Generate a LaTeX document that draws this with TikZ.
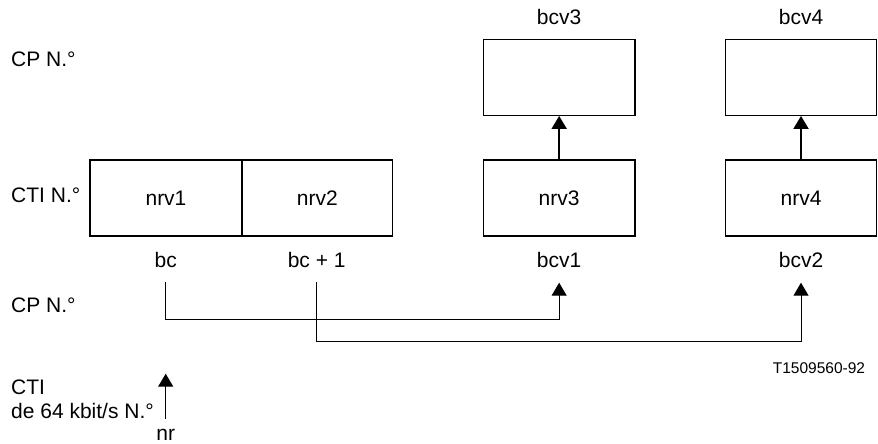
\documentclass[tikz,border=0pt]{standalone}
\usepackage{fontspec}
\setmainfont{Liberation Sans}
\usetikzlibrary{arrows.meta}
\begin{document}
\begin{tikzpicture}[x=1pt,y=-1pt,
  every node/.style={font=\fontsize{21}{24}\selectfont, inner sep=0pt},
  boxnode/.style={draw, line width=1.3pt, minimum height=76pt},
  lbl/.style={anchor=base},
  lbll/.style={anchor=base west},
  conn/.style={line width=1pt},
  tip/.style={-{Triangle[width=15pt,length=13pt]}},
  arr/.style={line width=1.3pt, tip},
  thickarr/.style={line width=2pt, tip}
]
\useasboundingbox (0,0) rectangle (878,444);

% row labels
\node[lbll] (cp1) at (11,66.5) {CP N.°};
\node[lbll] (cti1) at (11,202) {CTI N.°};
\node[lbll] (cp2) at (11,312.7) {CP N.°};
\node[lbll] (cti2) at (11,394.7) {CTI};
\node[lbll] (de64) at (11,418.7) {de 64 kbit/s N.°};

% boxes
\node[boxnode, minimum width=152pt] (n1) at (166,198) {nrv1};
\node[boxnode, minimum width=150.7pt] (n2) at (317.35,198) {nrv2};
\node[boxnode, minimum width=151.7pt] (n3) at (559.15,198) {nrv3};
\node[boxnode, minimum width=151.4pt] (n4) at (801,198) {nrv4};
\node[boxnode, minimum width=151.7pt] (u3) at (559.15,77.3) {};
\node[boxnode, minimum width=151.4pt] (u4) at (801,77.3) {};

% top labels
\node[lbl] (bcv3) at (559.15,25) {bcv3};
\node[lbl] (bcv4) at (801,25) {bcv4};

% bottom labels
\node[lbl] (bc) at (165.7,267) {bc};
\node[lbl] (bc1) at (316.7,267) {bc + 1};
\node[lbl] (bcv1) at (559.15,267) {bcv1};
\node[lbl] (bcv2) at (801,267) {bcv2};

\node[lbl, font=\fontsize{15.5}{18}\selectfont] (ref) at (819,373.3) {T1509560-92};
\node[lbl] (nr) at (165.7,440.5) {nr};

% vertical arrows between boxes
\draw[thickarr] (n3.north) -- (u3.south);
\draw[thickarr] (n4.north) -- (u4.south);

% connectors
\coordinate (s1) at (165.7,282);
\coordinate (t1) at (559.15,282.7);
\coordinate (s2) at (316.7,282);
\coordinate (t2) at (801,282.7);
\draw[conn, tip] (s1) -- (165.7,319.3) -| (t1);
\draw[conn, tip] (s2) -- (316.7,341.3) -| (t2);

% nr arrow
\coordinate (nrs) at (165.7,418.7);
\coordinate (nrt) at (165.7,373.7);
\draw[arr] (nrs) -- (nrt);
\end{tikzpicture}
\end{document}
